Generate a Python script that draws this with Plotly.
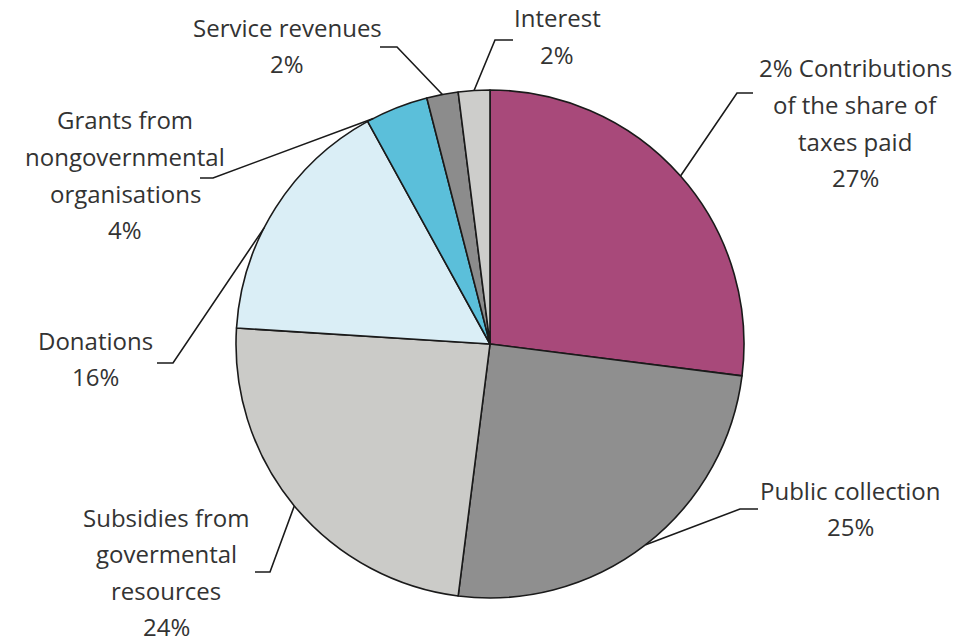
import math
import plotly.graph_objects as go

# ---- data ----
labels = ["2% Contributions of the share of taxes paid", "Public collection",
          "Subsidies from govermental resources", "Donations",
          "Grants from nongovernmental organisations", "Service revenues", "Interest"]
values = [27, 25, 24, 16, 4, 2, 2]
label_lines = [
    ["2% Contributions", "of the share of", "taxes paid", "27%"],
    ["Public collection", "25%"],
    ["Subsidies from", "govermental", "resources", "24%"],
    ["Donations", "16%"],
    ["Grants from", "nongovernmental", "organisations", "4%"],
    ["Service revenues", "2%"],
    ["Interest", "2%"],
]
colors = ["#A8497A", "#8F8F8F", "#CBCBC8", "#DAEEF6", "#5BBFDA", "#8C8C8C", "#CDCDCB"]

# ---- layout (screen pixels; page body adds an offset) ----
W, H = 966, 636
OFF = 8
CX, CY, R = 490, 344, 254
label_pos = [(855, 68), (850, 490), (166, 517), (95, 340), (125, 120), (287, 27), (557, 18)]
elbows = [(737, 93), (740, 509), (270, 572), (173, 363), (213, 178), (397, 47), (495, 40)]
ends = [(753, 93), (758, 509), (255, 572), (157, 363), (200, 178), (380, 47), (513, 40)]
anchor_frac = [0.5, 0.5, 0.5, 0.41, 0.1, 0.5, 0.5]
LINE_PITCH = 36.5


def px(x):
    return (x - OFF) / W


def py(y):
    return 1 - (y - OFF) / H


fig = go.Figure(go.Pie(
    labels=labels, values=values, sort=False, direction="clockwise", rotation=0,
    marker=dict(colors=colors, line=dict(color="#1a1a1a", width=1.6)),
    textinfo="none", hoverinfo="label+percent", showlegend=False,
    domain=dict(x=[px(CX - R), px(CX + R)], y=[py(CY + R), py(CY - R)]),
))

total = sum(values)
cum = 0
annotations = []
shapes = []
for i, v in enumerate(values):
    frac = (cum + v * anchor_frac[i]) / total
    cum += v
    ang = 2 * math.pi * frac
    ex = CX + R * math.sin(ang)
    ey = CY - R * math.cos(ang)
    bx, by = elbows[i]
    hx, hy = ends[i]
    shapes.append(dict(type="path", xref="paper", yref="paper",
                       path=f"M {px(ex)} {py(ey)} L {px(bx)} {py(by)} L {px(hx)} {py(hy)}",
                       line=dict(color="#1a1a1a", width=1.6)))
    lx, ly = label_pos[i]
    for k, t in enumerate(label_lines[i]):
        annotations.append(dict(x=px(lx), y=py(ly + k * LINE_PITCH), xref="paper", yref="paper",
                                text=t, showarrow=False, xanchor="center", yanchor="middle",
                                font=dict(family="Open Sans", size=24, color="#333333")))

fig.update_layout(width=W, height=H, margin=dict(l=0, r=0, t=0, b=0),
                  paper_bgcolor="white", plot_bgcolor="white",
                  annotations=annotations, shapes=shapes)
fig.write_html("out.html")
